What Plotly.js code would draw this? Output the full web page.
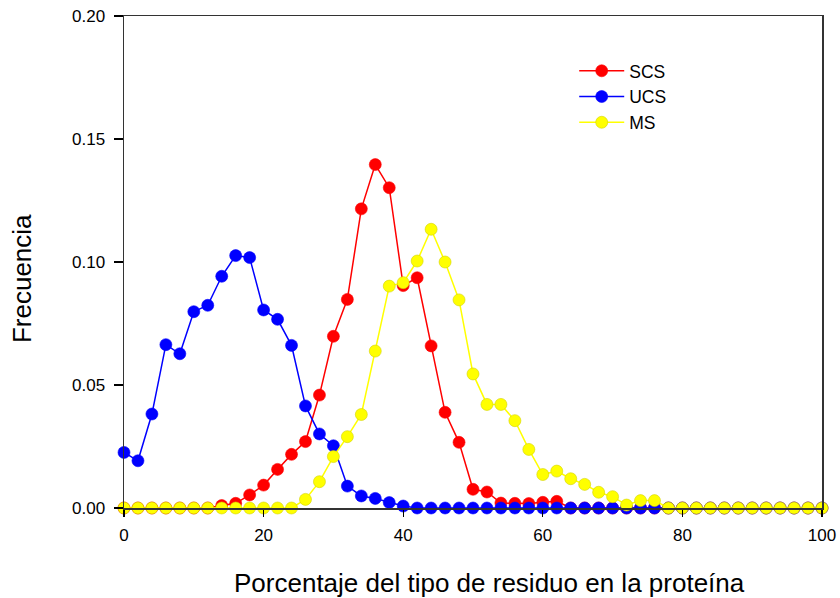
<!DOCTYPE html>
<html>
<head>
<meta charset="utf-8">
<script src="https://cdn.plot.ly/plotly-3.0.1.min.js"></script>
<style>html,body{margin:0;padding:0;background:#fff;}#chart{width:840px;height:598px;}</style>
</head>
<body>
<div id="chart"></div>
<script>
const porcentaje = [0,2,4,6,8,10,12,14,16,18,20,22,24,26,28,30,32,34,36,38,40,42,44,46,48,50,52,54,56,58,60,62,64,66,68,70,72,74,76,78,80,82,84,86,88,90,92,94,96,98,100];

const scs = [0,0,0,0,0,0,0,0.0010,0.0019,0.0053,0.0093,0.0157,0.0218,0.0270,0.0459,0.0698,0.0848,0.1216,0.1396,0.1302,0.0904,0.0936,0.0659,0.0389,0.0267,0.0076,0.0065,0.0020,0.0019,0.0018,0.0023,0.0027,0,0,0,0,0,0,0,0,0,0,0,0,0,0,0,0,0,0,0];

const ucs = [0.0226,0.0192,0.0382,0.0664,0.0627,0.0798,0.0824,0.0942,0.1026,0.1018,0.0805,0.0767,0.0661,0.0415,0.0301,0.0253,0.0089,0.0049,0.0039,0.0022,0.0008,0,0,0,0,0,0,0,0,0,0,0,0,0,0,0,0,0,0,0,0,0,0,0,0,0,0,0,0,0,0];

const ms = [0,0,0,0,0,0,0,0,0,0,0,0,0,0.0035,0.0107,0.0209,0.0290,0.0380,0.0638,0.0902,0.0916,0.1004,0.1133,0.1000,0.0846,0.0545,0.0421,0.0421,0.0355,0.0238,0.0136,0.0150,0.0119,0.0096,0.0064,0.0046,0.0012,0.0030,0.0030,0,0,0,0,0,0,0,0,0,0,0,0];

const seriesNames = ['SCS','UCS','MS'];
const seriesColors = ['#ff0000','#0000ff','#ffff00'];
const seriesData = [scs, ucs, ms];

const xTickVals = [0,20,40,60,80,100];
const xTickText = ['0','20','40','60','80','100'];
const yTickVals = [0, 0.05, 0.10, 0.15, 0.20];
const yTickText = ['0.00','0.05','0.10','0.15','0.20'];

const xTitle = 'Porcentaje del tipo de residuo en la proteína';
const yTitle = 'Frecuencia';

const font = 'Liberation Sans, Arial, sans-serif';

const traces = seriesData.map((vals, i) => ({
  x: porcentaje,
  y: vals,
  name: seriesNames[i],
  type: 'scatter',
  mode: 'lines+markers',
  line: {color: seriesColors[i], width: 1.5},
  marker: {color: seriesColors[i], size: 12,
           line: {color: i === 2 ? '#d4d400' : seriesColors[i], width: 0.6}},
  cliponaxis: false
}));

const layout = {
  width: 840, height: 598,
  margin: {l: 124, r: 18, t: 16, b: 90},
  paper_bgcolor: '#ffffff',
  plot_bgcolor: '#ffffff',
  font: {family: font, color: '#000', size: 17},
  showlegend: true,
  legend: {
    x: 0.645, y: 0.925, xanchor: 'left', yanchor: 'top',
    bgcolor: 'rgba(0,0,0,0)', borderwidth: 0,
    itemwidth: 45,
    font: {family: font, size: 17.5, color: '#000'},
    tracegroupgap: 0
  },
  xaxis: {
    range: [0, 100],
    tickvals: xTickVals,
    ticktext: xTickText,
    ticks: 'outside', ticklen: 7, tickwidth: 1.2, tickcolor: '#000',
    showline: true, linecolor: '#333', linewidth: 1.5, mirror: true,
    showgrid: false, zeroline: false,
    tickfont: {family: font, size: 17},
    ticklabelstandoff: 4
  },
  yaxis: {
    range: [0, 0.20],
    tickvals: yTickVals,
    ticktext: yTickText,
    ticks: 'outside', ticklen: 9, tickwidth: 1.2, tickcolor: '#000',
    showline: true, linecolor: '#333', linewidth: 1.5, mirror: true,
    showgrid: false, zeroline: false,
    tickfont: {family: font, size: 17},
    ticklabelstandoff: 5
  },
  annotations: [
    {text: xTitle, xref: 'paper', yref: 'paper', x: 0.523, y: -0.1524,
     xanchor: 'center', yanchor: 'middle', showarrow: false,
     font: {family: font, size: 26, color: '#000'}},
    {text: yTitle, xref: 'paper', yref: 'paper', x: -0.1461, y: 0.4654,
     xanchor: 'center', yanchor: 'middle', showarrow: false, textangle: -90,
     font: {family: font, size: 26, color: '#000'}}
  ]
};

Plotly.newPlot('chart', traces, layout, {displayModeBar: false, staticPlot: true});
</script>
</body>
</html>
